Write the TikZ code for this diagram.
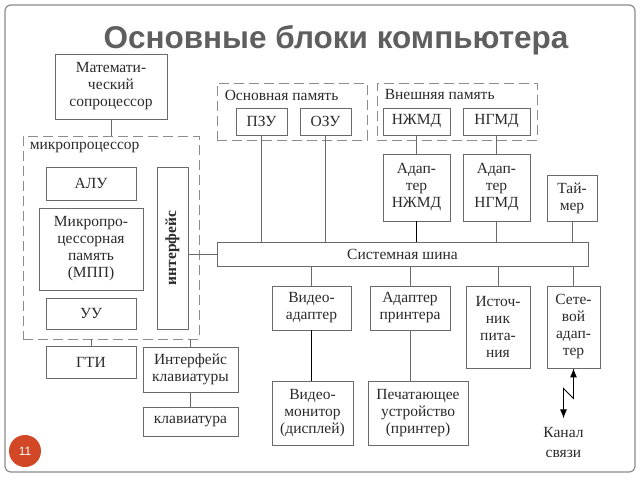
\documentclass[tikz,border=0pt]{standalone}
\usepackage{fontspec}
\setmainfont{Liberation Serif}
\newfontfamily\headfont{Liberation Sans}
\usetikzlibrary{positioning,arrows.meta}
\definecolor{titlegray}{HTML}{5F5F5F}
\definecolor{framegray}{HTML}{8C8C8C}
\definecolor{linegray}{HTML}{6A6A6A}
\definecolor{textgray}{HTML}{2A2A2A}
\definecolor{slideorange}{HTML}{D24726}
\tikzset{
  blk/.style 2 args={draw=linegray, line width=0.8pt, inner sep=0pt, align=center,
    minimum width=#1pt, minimum height=#2pt, text=textgray,
    font=\fontsize{15.5}{17}\selectfont},
  grp/.style 2 args={draw=framegray, line width=0.9pt, dash pattern=on 10pt off 5pt,
    inner sep=0pt, minimum width=#1pt, minimum height=#2pt},
  grplbl/.style={inner sep=0pt, text=textgray, font=\fontsize{15.5}{17}\selectfont},
  wire/.style={draw=linegray, line width=0.8pt},
  heavywire/.style={draw=black, line width=1.4pt},
}
\begin{document}
\begin{tikzpicture}[x=1pt, y=-1pt]
  \useasboundingbox (0,0) rectangle (640,480);
  % Draw the slide frame and the title.
  \draw[framegray, line width=1.2pt, rounded corners=6pt] (5,5) rectangle (635,472);
  \node (title) at (336,48) [anchor=base, text=titlegray,
    font=\headfont\fontsize{31.5}{36}\selectfont\bfseries] {Основные блоки компьютера};
  % Draw the processor part on the left.
  \node (mathco) at (111,86.5) [blk={112}{65}] {Математи-\\ческий\\сопроцессор};
  \node (mproc) at (111,237.5) [grp={176}{203}] {};
  \node (mproclbl) [grplbl, below right=6pt and 7pt of mproc.north west] {микропроцессор};
  \node (alu) at (91,183.5) [blk={90}{33}] {АЛУ};
  \node (mpp) at (91,249) [blk={104}{82}] {Микропро-\\цессорная\\память\\(МПП)};
  \node (uu) at (91,313.5) [blk={90}{31}] {УУ};
  \node (iface) at (172.5,248) [blk={31}{162}] {};
  \node (ifacetxt) at (iface.center) [rotate=90, text=textgray,
    font=\fontsize{15.5}{17}\selectfont\bfseries] {интерфейс};
  \node (gti) at (91,362) [blk={90}{32}] {ГТИ};
  \node (kbif) at (190.5,369.5) [blk={95}{45}] {Интерфейс\\клавиатуры};
  \node (kbd) at (190.5,421.5) [blk={95}{29}] {клавиатура};
  % Draw the memory groups on top.
  \node (mainmem) at (292,111.5) [grp={150}{57}] {};
  \node (mainlbl) [grplbl, below right=7pt and 8pt of mainmem.north west] {Основная память};
  \node (pzu) at (261.5,121.5) [blk={51}{27}] {ПЗУ};
  \node (ozu) at (325.5,121.5) [blk={51}{27}] {ОЗУ};
  \node (extmem) at (457,111.5) [grp={160}{57}] {};
  \node (extlbl) [grplbl, below right=7pt and 8pt of extmem.north west] {Внешняя память};
  \node (nzhmd) at (416.5,121.5) [blk={67}{27}] {НЖМД};
  \node (ngmd) at (496.5,121.5) [blk={67}{27}] {НГМД};
  \node (adnzh) at (416.5,187.5) [blk={67}{67}] {Адап-\\тер\\НЖМД};
  \node (adngm) at (496.5,187.5) [blk={67}{67}] {Адап-\\тер\\НГМД};
  \node (timer) at (572,198) [blk={50}{46}] {Тай-\\мер};
  % The system bus and what hangs below it.
  \node (bus) at (402.5,254) [blk={371}{24}] {Системная шина};
  \node (vadapt) at (311.5,308) [blk={79}{44}] {Видео-\\адаптер};
  \node (padapt) at (410,308) [blk={80}{44}] {Адаптер\\принтера};
  \node (power) at (498,327) [blk={64}{82}] {Источ-\\ник\\пита-\\ния};
  \node (net) at (573.5,327) [blk={53}{82}] {Сете-\\вой\\адап-\\тер};
  \node (vmon) at (312.5,413) [blk={81}{64}] {Видео-\\монитор\\(дисплей)};
  \node (printer) at (418,413) [blk={100}{64}] {Печатающее\\устройство\\(принтер)};
  % Connect the blocks.
  \draw[wire] (mathco.south) -- (mathco.south |- mproc.north);
  \draw[wire] (bus.west) -- (bus.west -| iface.east);
  \draw[wire] (gti.north) -- (gti.north |- mproc.south);
  \draw[wire] (kbif.north) -- (kbif.north |- mproc.south);
  \draw[wire] (kbif) -- (kbd);
  \draw[wire] (pzu.south) -- (pzu.south |- bus.north);
  \draw[wire] (ozu.south) -- (ozu.south |- bus.north);
  \draw[wire] (nzhmd) -- (adnzh);
  \draw[wire] (ngmd) -- (adngm);
  \draw[heavywire] (adnzh.south) -- (adnzh.south |- bus.north);
  \draw[wire] (adngm.south) -- (adngm.south |- bus.north);
  \draw[wire] (timer.south) -- (timer.south |- bus.north);
  \draw[wire] (vadapt.north) -- (vadapt.north |- bus.south);
  \draw[wire] (padapt.north) -- (padapt.north |- bus.south);
  \draw[wire] (power.north) -- (power.north |- bus.south);
  \draw[wire] (net.north) -- (net.north |- bus.south);
  \draw[heavywire] (vadapt.south) -- (vadapt.south |- vmon.north);
  \draw[wire] (padapt.south) -- (padapt.south |- printer.north);
  % The communication channel with its zigzag arrow.
  \draw[black, line width=0.9pt, {Latex[length=9pt,width=7pt]}-{Latex[length=9pt,width=7pt]}]
    (net.south) -- ++(0,30) -- ++(-10,-10) -- ++(0,30) coordinate (chtip);
  \node (chan) [below=5pt of chtip, align=center, text=textgray,
    font=\fontsize{15.5}{20}\selectfont] {Канал\\связи};
  % Slide number.
  \node (num) at (25,451) [circle, fill=slideorange, minimum size=32pt, inner sep=0pt,
    text=white, font=\headfont\fontsize{12}{14}\selectfont] {11};
\end{tikzpicture}
\end{document}
